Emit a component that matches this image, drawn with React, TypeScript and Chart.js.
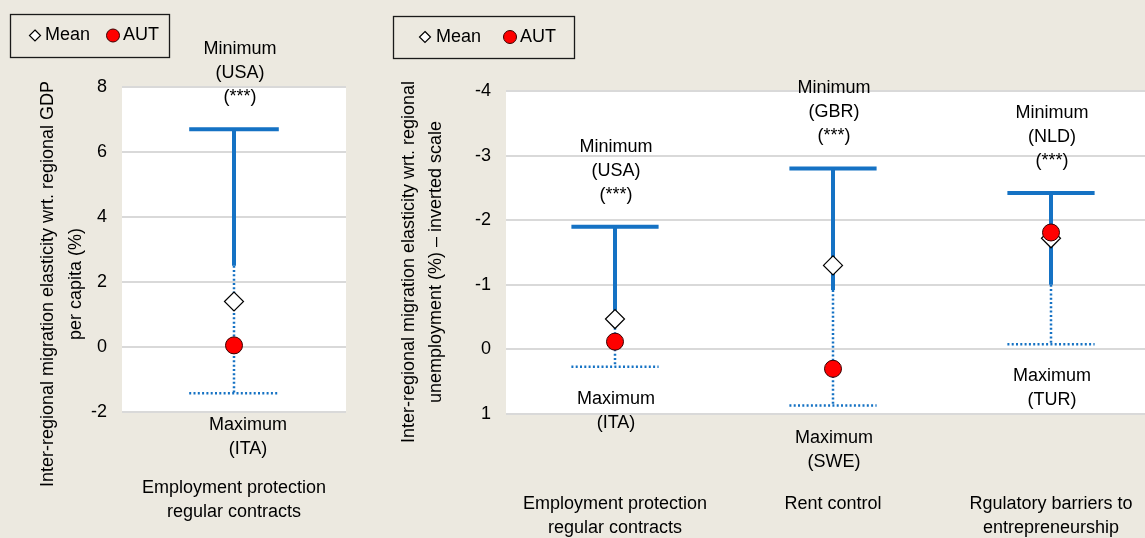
import React, { useEffect, useRef } from "react";
import { Chart, registerables } from "chart.js";

Chart.register(...registerables);

const FONT = '"Liberation Sans", Arial, sans-serif';
const BG = "#ECE9E0";
const BLUE = "#1572C4";
const GRID = "#D9D9D9";
const CAP = 0.2;

// ---------- Left panel: elasticity wrt regional GDP per capita ----------
const gdpCategories = [["Employment protection", "regular contracts"]];
const gdpMin = [6.7];
const gdpSolidEnd = [2.5];
const gdpMax = [-1.42];
const gdpMean = [1.4];
const gdpAut = [0.05];
const gdpMinLabels = [["Minimum", "(USA)", "(***)"]];
const gdpMaxLabels = [["Maximum", "(ITA)"]];
const gdpTitle = ["Inter-regional migration elasticity wrt. regional GDP", "per capita (%)"];
const gdpAxis = { min: -2, max: 8, step: 2 };

// ---------- Right panel: elasticity wrt regional unemployment (inverted) ----------
const unCategories = [
  ["Employment protection", "regular contracts"],
  ["Rent control"],
  ["Rgulatory barriers to", "entrepreneurship"],
];
const unMin = [-1.9, -2.8, -2.42];
const unSolidEnd = [-0.6, -0.92, -1.0];
const unMax = [0.27, 0.87, -0.08];
const unMean = [-0.47, -1.3, -1.72];
const unAut = [-0.12, 0.3, -1.81];
const unMinLabels = [
  ["Minimum", "(USA)", "(***)"],
  ["Minimum", "(GBR)", "(***)"],
  ["Minimum", "(NLD)", "(***)"],
];
const unMaxLabels = [
  ["Maximum", "(ITA)"],
  ["Maximum", "(SWE)"],
  ["Maximum", "(TUR)"],
];
const unTitle = ["Inter-regional migration elasticity wrt. regional", "unemployment (%) \u2013 inverted scale"];
const unAxis = { min: -4, max: 1, step: 1 };

const legendLabels = ["Mean", "AUT"];

type Panel = {
  width: number;
  height: number;
  plotLeft: number;
  plotTop: number;
  plotBottom: number;
  plotRight: number;
  xMax: number;
  axis: { min: number; max: number; step: number };
  reverse: boolean;
  categories: string[][];
  mins: number[];
  ends: number[];
  maxs: number[];
  means: number[];
  auts: number[];
  minLabels: string[][];
  maxLabels: string[][];
  title: string[];
  titleX: number[];
  titleY: number;
  catGap: number;
  minDx: number;
  maxDx: number;
  legend: { x: number; y: number; w: number; h: number; dx: number; tx: number; cx: number; ax: number };
};

function segments(mins: number[], ends: number[], maxs: number[], solid: boolean) {
  const pts: any[] = [];
  mins.forEach((m, i) => {
    const x = i + 1;
    if (solid) {
      pts.push({ x: x - CAP, y: m }, { x: x + CAP, y: m }, { x, y: null });
      pts.push({ x, y: m }, { x, y: ends[i] }, { x, y: null });
    } else {
      pts.push({ x, y: ends[i] }, { x, y: maxs[i] }, { x, y: null });
      pts.push({ x: x - CAP, y: maxs[i] }, { x: x + CAP, y: maxs[i] }, { x, y: null });
    }
  });
  return pts;
}

function PanelChart({ p, left }: { p: Panel; left: number }) {
  const ref = useRef<HTMLCanvasElement | null>(null);
  useEffect(() => {
    if (!ref.current) return;
    const decor = {
      id: "decor",
      beforeDraw(chart: any) {
        const { ctx, chartArea } = chart;
        ctx.save();
        ctx.fillStyle = BG;
        ctx.fillRect(0, 0, chart.width, chart.height);
        ctx.fillStyle = "#FFFFFF";
        ctx.fillRect(chartArea.left, chartArea.top, chartArea.right - chartArea.left, chartArea.bottom - chartArea.top);
        ctx.restore();
      },
      afterDraw(chart: any) {
        const { ctx, chartArea } = chart;
        const xs = chart.scales.x;
        const ys = chart.scales.y;
        ctx.save();
        ctx.fillStyle = "#000";
        ctx.font = `18px ${FONT}`;
        ctx.textAlign = "center";
        ctx.textBaseline = "middle";
        const LH = 24;
        // min / max annotations
        p.minLabels.forEach((lines, i) => {
          const x = xs.getPixelForValue(i + 1) + p.minDx;
          const y = ys.getPixelForValue(p.mins[i]);
          lines.forEach((t, k) => ctx.fillText(t, x, y - 32 - LH * (lines.length - 1 - k)));
        });
        p.maxLabels.forEach((lines, i) => {
          const x = xs.getPixelForValue(i + 1) + p.maxDx;
          const y = ys.getPixelForValue(p.maxs[i]);
          lines.forEach((t, k) => ctx.fillText(t, x, y + 32 + LH * k));
        });
        // category labels
        p.categories.forEach((lines, i) => {
          const x = xs.getPixelForValue(i + 1);
          lines.forEach((t, k) => ctx.fillText(t, x, chartArea.bottom + p.catGap + LH * k));
        });
        // y title
        p.title.forEach((t, k) => {
          ctx.save();
          ctx.translate(p.titleX[k], p.titleY);
          ctx.rotate(-Math.PI / 2);
          ctx.fillText(t, 0, 0);
          ctx.restore();
        });
        // legend
        const L = p.legend;
        ctx.strokeStyle = "#1a1a1a";
        ctx.lineWidth = 1.3;
        ctx.strokeRect(L.x + 0.5, L.y + 0.5, L.w, L.h);
        const ly = L.y + L.h / 2;
        ctx.beginPath();
        ctx.moveTo(L.dx, ly - 5.5);
        ctx.lineTo(L.dx + 5.5, ly);
        ctx.lineTo(L.dx, ly + 5.5);
        ctx.lineTo(L.dx - 5.5, ly);
        ctx.closePath();
        ctx.fillStyle = "#fff";
        ctx.fill();
        ctx.lineWidth = 1.2;
        ctx.strokeStyle = "#000";
        ctx.stroke();
        ctx.beginPath();
        ctx.arc(L.cx, ly, 6.5, 0, Math.PI * 2);
        ctx.fillStyle = "#FF0000";
        ctx.fill();
        ctx.lineWidth = 1;
        ctx.strokeStyle = "#3a0000";
        ctx.stroke();
        ctx.fillStyle = "#000";
        ctx.textAlign = "left";
        ctx.fillText(legendLabels[0], L.tx, ly);
        ctx.fillText(legendLabels[1], L.ax, ly);
        ctx.restore();
      },
    };

    const chart = new Chart(ref.current, {
      type: "scatter",
      data: {
        datasets: [
          {
            label: legendLabels[1],
            data: p.auts.map((v, i) => ({ x: i + 1, y: v })),
            pointStyle: "circle",
            pointRadius: 8.5,
            backgroundColor: "#FF0000",
            borderColor: "#3a0000",
            borderWidth: 1,
            order: 0,
          } as any,
          {
            label: legendLabels[0],
            data: p.means.map((v, i) => ({ x: i + 1, y: v })),
            pointStyle: "rectRot",
            pointRadius: 9.5,
            backgroundColor: "#FFFFFF",
            borderColor: "#000000",
            borderWidth: 1.2,
            order: 1,
          },
          {
            label: "range-solid",
            data: segments(p.mins, p.ends, p.maxs, true),
            showLine: true,
            spanGaps: false,
            pointRadius: 0,
            borderColor: BLUE,
            borderWidth: 4,
            borderCapStyle: "butt",
            order: 2,
          },
          {
            label: "range-dotted",
            data: segments(p.mins, p.ends, p.maxs, false),
            showLine: true,
            spanGaps: false,
            pointRadius: 0,
            borderColor: BLUE,
            borderWidth: 2.5,
            borderDash: [2, 2.3],
            borderCapStyle: "butt",
            order: 3,
          },
        ],
      },
      options: {
        responsive: false,
        animation: false,
        devicePixelRatio: 1,
        layout: {
          autoPadding: false,
          padding: { left: 0, top: p.plotTop, bottom: p.height - p.plotBottom, right: p.width - p.plotRight },
        },
        plugins: { legend: { display: false }, tooltip: { enabled: false } },
        scales: {
          x: { type: "linear", min: 0.5, max: p.xMax, display: false },
          y: {
            type: "linear",
            min: p.axis.min,
            max: p.axis.max,
            reverse: p.reverse,
            afterFit: (s: any) => {
              s.width = p.plotLeft;
            },
            ticks: {
              stepSize: p.axis.step,
              padding: 15,
              color: "#000",
              font: { family: FONT, size: 18 },
            },
            grid: { color: GRID, lineWidth: 2, drawTicks: false },
            border: { display: false },
          },
        },
      },
      plugins: [decor],
    } as any);
    return () => chart.destroy();
  }, [p]);
  return (
    <canvas
      ref={ref}
      width={p.width}
      height={p.height}
      style={{ position: "absolute", left, top: 0, width: p.width, height: p.height }}
    />
  );
}

const leftPanel: Panel = {
  width: 380,
  height: 538,
  plotLeft: 122,
  plotTop: 87,
  plotBottom: 412,
  plotRight: 346,
  xMax: 1.5,
  axis: gdpAxis,
  reverse: false,
  categories: gdpCategories,
  mins: gdpMin,
  ends: gdpSolidEnd,
  maxs: gdpMax,
  means: gdpMean,
  auts: gdpAut,
  minLabels: gdpMinLabels,
  maxLabels: gdpMaxLabels,
  title: gdpTitle,
  titleX: [48, 76],
  titleY: 284,
  catGap: 76,
  minDx: 6,
  maxDx: 14,
  legend: { x: 10, y: 14, w: 159, h: 43, dx: 35, tx: 45, cx: 113, ax: 123 },
};

const rightPanel: Panel = {
  width: 765,
  height: 538,
  plotLeft: 126,
  plotTop: 91,
  plotBottom: 414,
  plotRight: 765,
  xMax: 0.5 + 639 / 218,
  axis: unAxis,
  reverse: true,
  categories: unCategories,
  mins: unMin,
  ends: unSolidEnd,
  maxs: unMax,
  means: unMean,
  auts: unAut,
  minLabels: unMinLabels,
  maxLabels: unMaxLabels,
  title: unTitle,
  titleX: [29, 56],
  titleY: 262,
  catGap: 90,
  minDx: 1,
  maxDx: 1,
  legend: { x: 13, y: 16, w: 181, h: 42, dx: 45, tx: 56, cx: 130, ax: 140 },
};

export default function App() {
  return (
    <div style={{ position: "absolute", left: 0, top: 0, width: 1145, height: 538, background: BG, overflow: "hidden" }}>
      <PanelChart p={leftPanel} left={0} />
      <PanelChart p={rightPanel} left={380} />
    </div>
  );
}
